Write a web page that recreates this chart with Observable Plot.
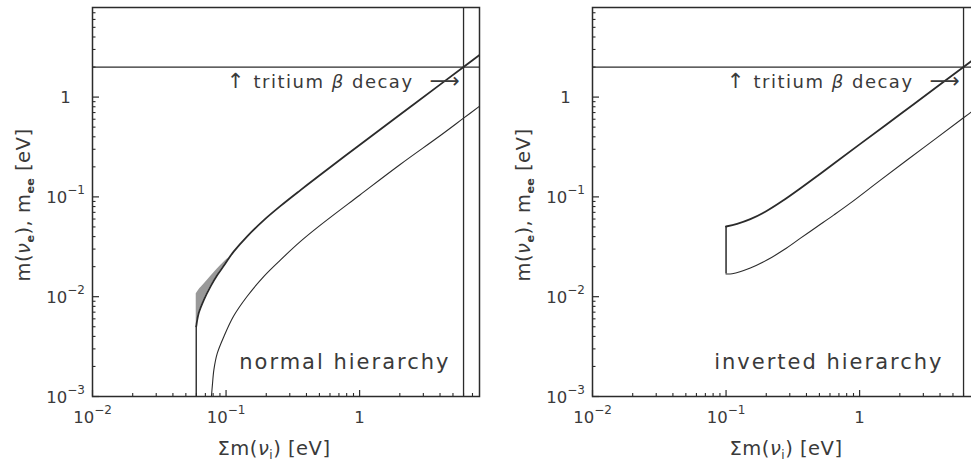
<!DOCTYPE html>
<html><head><meta charset="utf-8">
<script src="https://cdn.jsdelivr.net/npm/d3@7"></script>
<script src="https://cdn.jsdelivr.net/npm/@observablehq/plot@0.6"></script>
<style>
html,body{margin:0;padding:0;background:#fff;overflow:hidden;width:971px;height:467px;}
#left{position:absolute;left:0;top:0;width:490px;height:467px;}
#right{position:absolute;left:490px;top:0;width:500px;height:467px;}
svg{max-width:none !important;}
svg text{font-family:"DejaVu Sans",sans-serif;}
</style></head><body>
<div id="left"></div><div id="right"></div>
<script>
// ---- tick values and labels ----
const xTicks = [0.01, 0.1, 1];
const xTickLabels = ["10^−2", "10^−1", "1"];
const yTicks = [0.001, 0.01, 0.1, 1];
const yTickLabels = ["10^−3", "10^−2", "10^−1", "1"];
const xMinor = [0.02,0.03,0.04,0.05,0.06,0.07,0.08,0.09,0.2,0.3,0.4,0.5,0.6,0.7,0.8,0.9,2,3,4,5,6,7];
const yMinor = [0.002,0.003,0.004,0.005,0.006,0.007,0.008,0.009,0.02,0.03,0.04,0.05,0.06,0.07,0.08,0.09,0.2,0.3,0.4,0.5,0.6,0.7,0.8,0.9,2,3,4,5,6,7];

// ---- limits ----
const betaLimit = [2];    // tritium beta decay limit on m(nu_e) [eV]
const sumLimit = [6];     // corresponding sum of masses [eV]
const annotLabels = ["↑", "tritium β decay", "⟶"];

// ---- normal hierarchy ----
const nhThresholdSum = [0.0598];
const nhThresholdMass = [0.001, 0.00505];
const nhUpperSum  = [0.0598, 0.0625, 0.0682, 0.0766, 0.086, 0.0964, 0.105, 0.114, 0.144, 0.192, 0.256, 0.361, 0.5, 1, 2, 4, 6, 8];
const nhUpperMass = [0.00505, 0.0069, 0.0093, 0.0127, 0.0165, 0.0205, 0.0243, 0.0283, 0.0403, 0.0585, 0.0812, 0.117, 0.164, 0.331, 0.666, 1.333, 2.0, 2.667];
const nhBandSum  = [0.0598, 0.0625, 0.0682, 0.0766, 0.086, 0.0964, 0.105];
const nhBandLow  = [0.00505, 0.0069, 0.0093, 0.0127, 0.0165, 0.0205, 0.0243];
const nhBandHigh = [0.0107, 0.0117, 0.0133, 0.0159, 0.019, 0.0222, 0.0246];
const nhLowerSum  = [0.0777, 0.079, 0.0811, 0.0859, 0.0964, 0.114, 0.144, 0.192, 0.256, 0.361, 0.5, 1, 2, 4, 6, 8];
const nhLowerMass = [0.001, 0.0013, 0.00186, 0.0027, 0.004, 0.0064, 0.0101, 0.016, 0.0234, 0.0358, 0.0512, 0.104, 0.21, 0.41, 0.615, 0.82];

// ---- inverted hierarchy ----
const ihThresholdSum = [0.1];
const ihThresholdMass = [0.0169, 0.0505];
const ihUpperSum  = [0.1, 0.121, 0.152, 0.204, 0.271, 0.361, 0.482, 0.643, 1, 2, 4, 6, 8];
const ihUpperMass = [0.0505, 0.0537, 0.0598, 0.073, 0.093, 0.122, 0.162, 0.216, 0.336, 0.668, 1.334, 2.0, 2.667];
const ihLowerSum  = [0.1, 0.111, 0.152, 0.204, 0.271, 0.361, 0.482, 0.643, 0.857, 1.44, 3, 6, 8];
const ihLowerMass = [0.0169, 0.0170, 0.0194, 0.0234, 0.0295, 0.0386, 0.0505, 0.066, 0.087, 0.148, 0.31, 0.62, 0.83];

const zip = (xs, ys) => xs.map((x, i) => ({sum: x, mass: ys[i]}));

const INK = "#2b2b2b";
const TXT = "#3a3a3a";
const HEIGHT = 467, MT = 7, MB = 71, MR = 11;

function panel(opts) {
  const {width, marginLeft, curves, name, nameDx} = opts;
  const W = width - marginLeft - MR;
  const H = HEIGHT - MT - MB;
  const limitPoint = zip(sumLimit, betaLimit);
  const svg = Plot.plot({
    width, height: HEIGHT, marginTop: MT, marginBottom: MB, marginLeft, marginRight: MR,
    x: {type: "log", domain: [0.01, 7.9], axis: null},
    y: {type: "log", domain: [0.001, 7.9], axis: null},
    style: {background: "white", overflow: "visible", fontFamily: "DejaVu Sans", maxWidth: "none"},
    marks: [
      ...curves,
      Plot.ruleY(betaLimit, {y: d => d, stroke: INK, strokeWidth: 1.3}),
      Plot.ruleX(sumLimit, {x: d => d, stroke: INK, strokeWidth: 1.3}),
      Plot.tickX(xTicks, {x: d => d, insetTop: H - 6, stroke: INK, strokeWidth: 1.2}),
      Plot.tickX(xMinor, {x: d => d, insetTop: H - 3, stroke: INK, strokeWidth: 1.1}),
      Plot.tickY(yTicks, {y: d => d, insetRight: W - 7, stroke: INK, strokeWidth: 1.2}),
      Plot.tickY(yMinor, {y: d => d, insetRight: W - 3.5, stroke: INK, strokeWidth: 1.1}),
      Plot.frame({stroke: INK, strokeWidth: 1.5}),
      Plot.text(xTicks, {x: d => d, text: (d, i) => xTickLabels[i], frameAnchor: "bottom", dy: 26, fontSize: 16.5, fill: TXT}),
      Plot.text(yTicks, {y: d => d, text: (d, i) => yTickLabels[i], frameAnchor: "left", dx: -27, dy: 1, textAnchor: "middle", fontSize: 16.5, fill: TXT}),
      Plot.text(limitPoint, {x: "sum", y: "mass", text: () => annotLabels[0], textAnchor: "middle", dx: -228, dy: 14, fontSize: 21, fill: TXT}),
      Plot.text(limitPoint, {x: "sum", y: "mass", text: () => annotLabels[1], textAnchor: "end", dx: -50, dy: 15, fontSize: 18, fill: TXT}),
      Plot.text(limitPoint, {x: "sum", y: "mass", text: () => annotLabels[2], textAnchor: "end", dx: -4, dy: 14, fontSize: 21, fill: TXT}),
      Plot.text([name], {text: d => d, frameAnchor: "bottom-right", dx: nameDx, dy: -28, textAnchor: "end", fontSize: 21, fill: TXT})
    ]
  });
  const spacing = {"tritium β decay": "1.5px", "normal hierarchy": "2px", "inverted hierarchy": "2px"};
  // superscripts / italics / letter spacing
  d3.select(svg).selectAll("text").each(function() {
    const t = this.textContent;
    if (spacing[t]) this.setAttribute("letter-spacing", spacing[t]);
    const m = t.match(/^(.*)\^(.*)$/);
    if (m) {
      this.textContent = "";
      d3.select(this).append("tspan").text(m[1]);
      d3.select(this).append("tspan").attr("dy", -9).attr("font-size", 12).text(m[2]);
    } else if (t.includes("β")) {
      const parts = t.split("β");
      this.textContent = "";
      d3.select(this).append("tspan").text(parts[0]);
      d3.select(this).append("tspan").attr("font-style", "italic").text("β");
      d3.select(this).append("tspan").text(parts[1]);
    }
  });
  const s = d3.select(svg);
  // x axis label
  const xl = s.append("text").attr("x", opts.xLabelX).attr("y", 455)
    .attr("text-anchor", "middle").attr("font-size", 19.5).attr("fill", TXT).attr("letter-spacing", "0.5px");
  xl.append("tspan").text("Σm(");
  xl.append("tspan").attr("font-style", "italic").text("ν");
  xl.append("tspan").attr("font-size", 12).attr("dy", 4).text("i");
  xl.append("tspan").attr("dy", -4).text(") [eV]");
  // y axis label
  const yl = s.append("text")
    .attr("transform", `translate(${marginLeft - 62},${205}) rotate(-90)`)
    .attr("text-anchor", "middle").attr("font-size", 19.5).attr("fill", TXT).attr("letter-spacing", "0.5px");
  yl.append("tspan").text("m(");
  yl.append("tspan").attr("font-style", "italic").text("ν");
  yl.append("tspan").attr("font-size", 11).attr("dy", 4).attr("font-weight", "bold").text("e");
  yl.append("tspan").attr("dy", -4).text("), m");
  yl.append("tspan").attr("font-size", 11).attr("dy", 4).attr("font-weight", "bold").text("ee");
  yl.append("tspan").attr("dy", -4).text(" [eV]");
  return svg;
}

const nhCurves = [
  Plot.areaY(nhBandSum.map((s, i) => ({sum: s, lo: nhBandLow[i], hi: nhBandHigh[i]})),
    {x: "sum", y1: "lo", y2: "hi", fill: "#999999", curve: "catmull-rom", clip: true}),
  Plot.ruleX(nhThresholdSum, {x: d => d, y1: nhThresholdMass[0], y2: nhThresholdMass[1], stroke: INK, strokeWidth: 1.4}),
  Plot.line(zip(nhUpperSum, nhUpperMass), {x: "sum", y: "mass", stroke: INK, strokeWidth: 1.8, curve: "catmull-rom", clip: true}),
  Plot.line(zip(nhLowerSum, nhLowerMass), {x: "sum", y: "mass", stroke: INK, strokeWidth: 1.1, curve: "catmull-rom", clip: true})
];
const ihCurves = [
  Plot.ruleX(ihThresholdSum, {x: d => d, y1: ihThresholdMass[0], y2: ihThresholdMass[1], stroke: INK, strokeWidth: 1.5}),
  Plot.line(zip(ihUpperSum, ihUpperMass), {x: "sum", y: "mass", stroke: INK, strokeWidth: 1.8, curve: "catmull-rom", clip: true}),
  Plot.line(zip(ihLowerSum, ihLowerMass), {x: "sum", y: "mass", stroke: INK, strokeWidth: 1.1, curve: "catmull-rom", clip: true})
];

document.getElementById("left").appendChild(panel({width: 490, marginLeft: 92, curves: nhCurves, name: "normal hierarchy", nameDx: -29, xLabelX: 274}));
document.getElementById("right").appendChild(panel({width: 500, marginLeft: 102, curves: ihCurves, name: "inverted hierarchy", nameDx: -36, xLabelX: 296}));
</script>
</body></html>
